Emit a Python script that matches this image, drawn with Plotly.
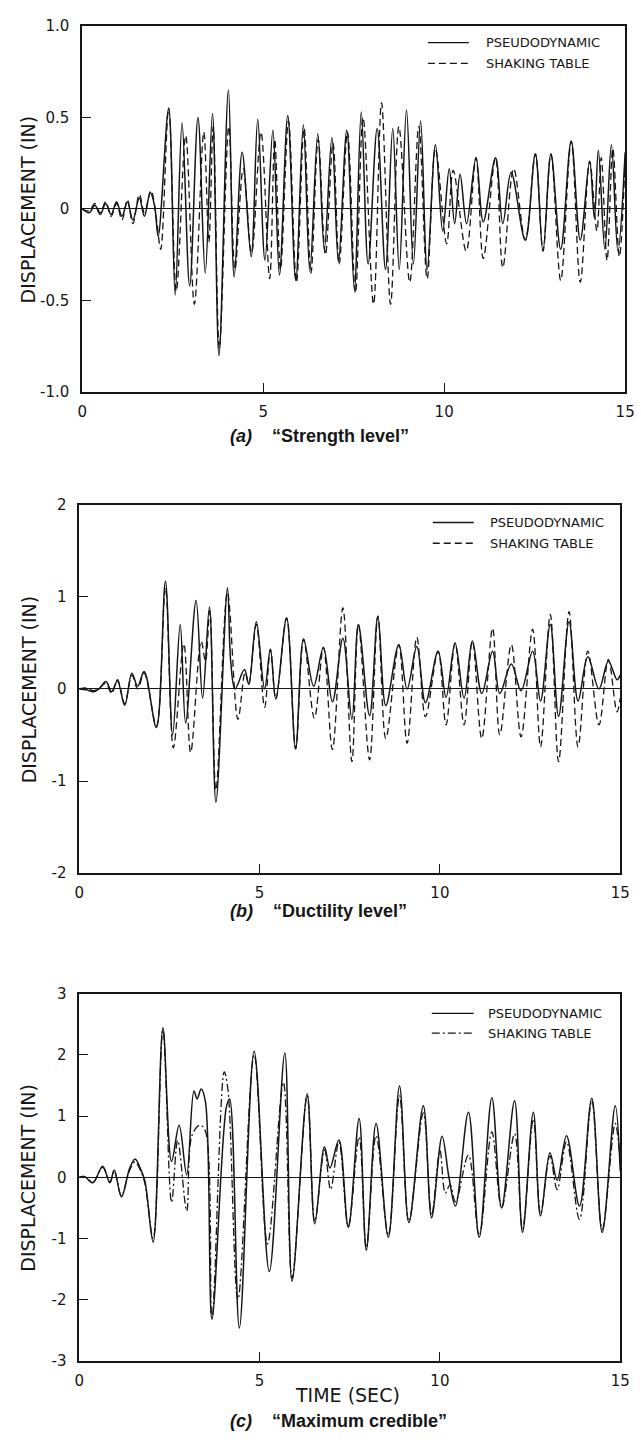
import plotly.graph_objects as go

# Displacement histories (time in s, displacement in in), sampled at the wave extrema.
# (a) "Strength level"
pd_a = [(0.00, 0.00), (0.20, -0.02), (0.35, 0.02), (0.50, -0.03), (0.65, 0.03), (0.80, -0.03),
        (0.95, 0.04), (1.10, -0.04), (1.25, 0.04), (1.40, -0.06), (1.58, 0.06), (1.72, -0.04),
        (1.88, 0.09), (2.00, 0.02), (2.10, -0.15), (2.39, 0.55), (2.57, -0.47), (2.76, 0.47),
        (2.97, -0.42), (3.20, 0.50), (3.40, -0.35), (3.60, 0.52), (3.78, -0.80), (4.04, 0.65),
        (4.20, -0.37), (4.42, 0.31), (4.67, -0.26), (4.85, 0.49), (5.05, -0.28), (5.27, 0.43),
        (5.45, -0.36), (5.68, 0.51), (5.90, -0.39), (6.11, 0.46), (6.29, -0.34), (6.51, 0.41),
        (6.69, -0.22), (6.90, 0.39), (7.08, -0.29), (7.31, 0.43), (7.52, -0.44), (7.71, 0.53),
        (7.90, -0.30), (8.15, 0.44), (8.38, -0.33), (8.58, 0.44), (8.76, -0.33), (8.96, 0.54),
        (9.15, -0.30), (9.35, 0.48), (9.53, -0.33), (9.76, 0.35), (9.96, -0.12), (10.14, 0.22),
        (10.29, -0.08), (10.44, 0.19), (10.62, -0.08), (10.88, 0.28), (11.08, -0.07), (11.42, 0.28),
        (11.62, -0.08), (11.85, 0.20), (12.24, -0.17), (12.52, 0.30), (12.73, -0.23), (12.95, 0.30),
        (13.22, -0.22), (13.51, 0.37), (13.76, -0.17), (14.02, 0.26), (14.15, -0.05), (14.26, 0.32),
        (14.44, -0.22), (14.62, 0.35), (14.80, -0.23), (15.00, 0.31)]
st_a = [(0.00, 0.00), (0.20, -0.01), (0.35, 0.03), (0.50, -0.02), (0.65, 0.04), (0.80, -0.04),
        (0.95, 0.03), (1.10, -0.06), (1.25, 0.05), (1.40, -0.08), (1.58, 0.08), (1.72, -0.02),
        (1.90, 0.10), (2.05, -0.05), (2.17, -0.22), (2.39, 0.55), (2.60, -0.45), (2.86, 0.40),
        (3.10, -0.52), (3.36, 0.42), (3.50, -0.18), (3.62, 0.45), (3.79, -0.76), (4.05, 0.45),
        (4.22, -0.33), (4.45, 0.22), (4.68, -0.24), (4.94, 0.42), (5.18, -0.38), (5.32, 0.38),
        (5.48, -0.33), (5.70, 0.48), (5.92, -0.40), (6.13, 0.44), (6.32, -0.35), (6.52, 0.38),
        (6.72, -0.25), (6.93, 0.36), (7.10, -0.30), (7.33, 0.42), (7.55, -0.46), (7.76, 0.50),
        (8.05, -0.52), (8.27, 0.58), (8.52, -0.52), (8.75, 0.45), (9.05, -0.40), (9.30, 0.45),
        (9.53, -0.38), (9.76, 0.33), (10.07, -0.19), (10.25, 0.21), (10.61, -0.23), (10.88, 0.28),
        (11.08, -0.27), (11.42, 0.28), (11.62, -0.32), (11.92, 0.22), (12.24, -0.17), (12.52, 0.30),
        (12.73, -0.23), (12.95, 0.30), (13.22, -0.39), (13.51, 0.37), (13.76, -0.40), (14.02, 0.26),
        (14.22, -0.12), (14.34, 0.28), (14.50, -0.28), (14.66, 0.33), (14.84, -0.26), (15.00, 0.28)]

# (b) "Ductility level"
pd_b = [(0.00, 0.00), (0.20, -0.01), (0.40, -0.03), (0.55, 0.00), (0.74, 0.08), (0.90, -0.03),
        (1.06, 0.09), (1.26, -0.18), (1.46, 0.17), (1.62, 0.03), (1.80, 0.19), (2.14, -0.42),
        (2.39, 1.17), (2.59, -0.50), (2.80, 0.70), (2.95, -0.37), (3.24, 0.96), (3.42, -0.10),
        (3.61, 0.89), (3.79, -1.23), (4.11, 1.10), (4.20, 0.30), (4.32, 0.00), (4.58, 0.21),
        (4.70, 0.05), (4.91, 0.73), (5.14, 0.00), (5.30, 0.43), (5.45, -0.11), (5.75, 0.77),
        (6.00, -0.65), (6.22, 0.54), (6.50, 0.03), (6.77, 0.45), (7.02, -0.14), (7.31, 0.55),
        (7.56, -0.33), (7.74, 0.70), (8.05, -0.29), (8.28, 0.79), (8.50, -0.18), (8.86, 0.48),
        (9.09, 0.00), (9.36, 0.46), (9.60, -0.15), (9.95, 0.41), (10.17, -0.09), (10.42, 0.50),
        (10.67, -0.10), (10.90, 0.52), (11.16, -0.05), (11.46, 0.41), (11.66, -0.05), (11.98, 0.27),
        (12.25, -0.02), (12.57, 0.41), (12.79, -0.13), (13.06, 0.70), (13.29, -0.30), (13.58, 0.73),
        (13.83, -0.13), (14.10, 0.35), (14.41, 0.00), (14.67, 0.30), (14.91, 0.10), (15.00, 0.15)]
st_b = [(0.00, 0.00), (0.20, 0.01), (0.40, -0.02), (0.55, 0.01), (0.74, 0.06), (0.90, -0.05),
        (1.06, 0.10), (1.26, -0.16), (1.46, 0.15), (1.62, 0.00), (1.80, 0.17), (2.14, -0.40),
        (2.39, 1.10), (2.61, -0.64), (2.90, 0.49), (3.09, -0.69), (3.38, 0.52), (3.50, 0.30),
        (3.62, 0.85), (3.79, -1.10), (4.11, 1.05), (4.40, -0.33), (4.60, 0.18), (4.70, 0.05),
        (4.91, 0.70), (5.14, -0.20), (5.30, 0.43), (5.45, -0.11), (5.75, 0.77), (6.00, -0.65),
        (6.22, 0.54), (6.52, -0.32), (6.77, 0.45), (7.02, -0.66), (7.31, 0.88), (7.56, -0.79),
        (7.74, 0.70), (8.05, -0.77), (8.28, 0.79), (8.50, -0.54), (8.86, 0.48), (9.09, -0.59),
        (9.36, 0.56), (9.60, -0.30), (9.95, 0.41), (10.17, -0.39), (10.42, 0.50), (10.67, -0.39),
        (10.90, 0.52), (11.16, -0.54), (11.46, 0.66), (11.66, -0.50), (11.98, 0.48), (12.25, -0.52),
        (12.57, 0.65), (12.79, -0.63), (13.06, 0.81), (13.29, -0.79), (13.58, 0.84), (13.83, -0.63),
        (14.10, 0.41), (14.41, -0.39), (14.67, 0.32), (14.91, -0.25), (15.00, -0.10)]

# (c) "Maximum credible"
pd_c = [(0.00, 0.00), (0.15, 0.01), (0.38, -0.09), (0.65, 0.18), (0.85, -0.09), (0.97, 0.12),
        (1.17, -0.32), (1.40, 0.15), (1.55, 0.30), (1.69, 0.15), (1.82, -0.06), (2.05, -1.06),
        (2.32, 2.44), (2.56, 0.26), (2.77, 0.85), (2.98, 0.04), (3.18, 1.41), (3.27, 1.28),
        (3.38, 1.44), (3.50, 1.23), (3.68, -2.32), (4.08, 1.15), (4.17, 1.28), (4.44, -2.46),
        (4.85, 2.06), (5.27, -1.54), (5.70, 2.03), (5.90, -1.70), (6.32, 1.36), (6.53, -0.76),
        (6.80, 0.50), (6.95, 0.15), (7.20, 0.61), (7.46, -0.82), (7.76, 0.96), (7.96, -1.19),
        (8.23, 0.88), (8.57, -0.98), (8.88, 1.49), (9.14, -0.74), (9.54, 1.17), (9.77, -0.66),
        (10.06, 0.67), (10.25, 0.00), (10.43, -0.47), (10.79, 1.06), (11.09, -0.98), (11.44, 1.30),
        (11.71, -0.50), (12.07, 1.25), (12.29, -0.90), (12.59, 1.06), (12.79, -0.63), (13.05, 0.40),
        (13.25, -0.05), (13.51, 0.68), (13.87, -0.47), (14.21, 1.29), (14.50, -0.90), (14.86, 1.17),
        (15.00, 0.10)]
st_c = [(0.00, 0.00), (0.15, 0.01), (0.38, -0.08), (0.65, 0.16), (0.85, -0.08), (0.97, 0.10),
        (1.17, -0.30), (1.40, 0.12), (1.55, 0.25), (1.69, 0.12), (1.82, -0.10), (2.05, -1.00),
        (2.32, 2.40), (2.56, -0.41), (2.73, 0.60), (2.98, -0.55), (3.13, 0.69), (3.35, 0.85),
        (3.50, 0.75), (3.68, -2.30), (4.02, 1.72), (4.12, 1.45), (4.40, -2.00), (4.85, 2.00),
        (5.22, -1.09), (5.66, 1.55), (5.90, -1.65), (6.32, 1.33), (6.53, -0.72), (6.80, 0.45),
        (6.97, -0.20), (7.20, 0.58), (7.46, -0.80), (7.76, 0.66), (7.96, -1.15), (8.23, 0.68),
        (8.57, -0.95), (8.88, 1.33), (9.14, -0.72), (9.54, 1.05), (9.77, -0.62), (10.00, 0.44),
        (10.15, -0.26), (10.28, -0.12), (10.43, -0.40), (10.79, 0.36), (11.09, -0.95), (11.44, 0.74),
        (11.71, -0.50), (12.07, 0.71), (12.29, -0.85), (12.59, 0.95), (12.79, -0.60), (13.05, 0.35),
        (13.25, -0.20), (13.51, 0.58), (13.87, -0.69), (14.21, 1.25), (14.50, -0.85), (14.86, 0.88),
        (15.00, 0.20)]

x_ticks = [0, 5, 10, 15]
y_ticks_a = [-1.0, -0.5, 0, 0.5, 1.0]
y_text_a = ["-1.0", "-0.5", "0", "0.5", "1.0"]
y_ticks_b = [-2, -1, 0, 1, 2]
y_ticks_c = [-3, -2, -1, 0, 1, 2, 3]
captions = ["(a)", "(b)", "(c)"]
caption_titles = ["\u201cStrength level\u201d", "\u201cDuctility level\u201d", "\u201cMaximum credible\u201d"]
legend_names = ["PSEUDODYNAMIC", "SHAKING TABLE"]

W, H = 641, 1445
INK = "#161616"
TICK_FONT = dict(family="DejaVu Sans", size=15, color=INK)


def px_x(p):
    return p / W


def px_y(p):
    return 1 - p / H


# panel frames in pixels: (left, right, top, bottom)
frames = [(79, 635, 17, 388), (76, 630, 502, 875), (76, 630, 997, 1369)]
st_dash = ["7px,4px", "7px,4px", "8px,3px,2px,3px"]
series = [(pd_a, st_a), (pd_b, st_b), (pd_c, st_c)]

fig = go.Figure()
for i, (pd_s, st_s) in enumerate(series):
    ax = "" if i == 0 else str(i + 1)
    for data, dash, width, name in ((st_s, st_dash[i], 1.3, legend_names[1]),
                                    (pd_s, "solid", 1.5, legend_names[0])):
        t, d = zip(*data)
        fig.add_trace(go.Scatter(
            x=list(t), y=list(d), mode="lines", name=name, showlegend=False,
            line=dict(color=INK, width=width, dash=dash, shape="spline", smoothing=1.0),
            xaxis="x" + ax, yaxis="y" + ax, hoverinfo="skip"))

axis_common = dict(showline=True, mirror=True, linecolor=INK, linewidth=1.5,
                   ticks="inside", ticklen=9, tickwidth=1.2, tickcolor=INK,
                   showgrid=False, tickfont=TICK_FONT)

y_specs = [
    (y_ticks_a, y_text_a, [-1.0, 1.0]),
    (y_ticks_b, [str(v) for v in y_ticks_b], [-2, 2]),
    (y_ticks_c, [str(v) for v in y_ticks_c], [-3, 3]),
]

layout = dict(width=W, height=H, margin=dict(l=0, r=0, t=0, b=0),
              paper_bgcolor="white", plot_bgcolor="white", showlegend=False)
for i, (l, r, t, b) in enumerate(frames):
    ax = "" if i == 0 else str(i + 1)
    tv, tt, rng = y_specs[i]
    layout["xaxis" + ax] = dict(axis_common, domain=[px_x(l), px_x(r)], range=[0, 15],
                                tickvals=x_ticks, ticktext=[str(v) for v in x_ticks],
                                zeroline=False, anchor="y" + ax, ticklabelstandoff=5)
    layout["yaxis" + ax] = dict(axis_common, domain=[px_y(b), px_y(t)], range=rng,
                                tickvals=tv, ticktext=tt, zeroline=True,
                                zerolinecolor=INK, zerolinewidth=1,
                                anchor="x" + ax, ticklabelstandoff=8)
fig.update_layout(**layout)

# legends: line samples plus labels
legend_pos = [(433, 475, 490, 34, 55), (438, 480, 495, 520, 541), (437, 480, 493, 1017, 1037)]
shapes, annotations = [], []
for i, (x0, x1, xt, y1, y2) in enumerate(legend_pos):
    shapes.append(dict(type="line", xref="paper", yref="paper",
                       x0=px_x(x0), x1=px_x(x1), y0=px_y(y1), y1=px_y(y1),
                       line=dict(color=INK, width=1.3)))
    shapes.append(dict(type="line", xref="paper", yref="paper",
                       x0=px_x(x0), x1=px_x(x1), y0=px_y(y2), y1=px_y(y2),
                       line=dict(color=INK, width=1.3, dash=st_dash[i])))
    for name, yy in zip(legend_names, (y1, y2)):
        annotations.append(dict(text=name, xref="paper", yref="paper", x=px_x(xt), y=px_y(yy),
                                xanchor="left", yanchor="middle", showarrow=False,
                                font=dict(family="DejaVu Sans", size=13, color=INK)))

# axis titles
for (l, r, t, b) in frames:
    annotations.append(dict(text="DISPLACEMENT (IN)", xref="paper", yref="paper",
                            x=px_x(24), y=px_y((t + b) / 2), textangle=-90,
                            xanchor="center", yanchor="middle", showarrow=False,
                            font=dict(family="DejaVu Sans", size=19, color=INK)))
annotations.append(dict(text="TIME (SEC)", xref="paper", yref="paper", x=px_x(351), y=px_y(1403),
                        xanchor="center", yanchor="middle", showarrow=False,
                        font=dict(family="DejaVu Sans", size=19, color=INK)))

# panel captions
for lab, title, yy in zip(captions, caption_titles, (432, 913, 1430)):
    annotations.append(dict(text="<b><i>" + lab + "</i>\u00a0\u00a0\u00a0\u00a0" + title + "</b>",
                            xref="paper", yref="paper", x=px_x(228), y=px_y(yy),
                            xanchor="left", yanchor="middle", showarrow=False,
                            font=dict(family="Liberation Sans", size=18, color=INK)))

fig.update_layout(shapes=shapes, annotations=annotations)
fig.write_html("out.html")
